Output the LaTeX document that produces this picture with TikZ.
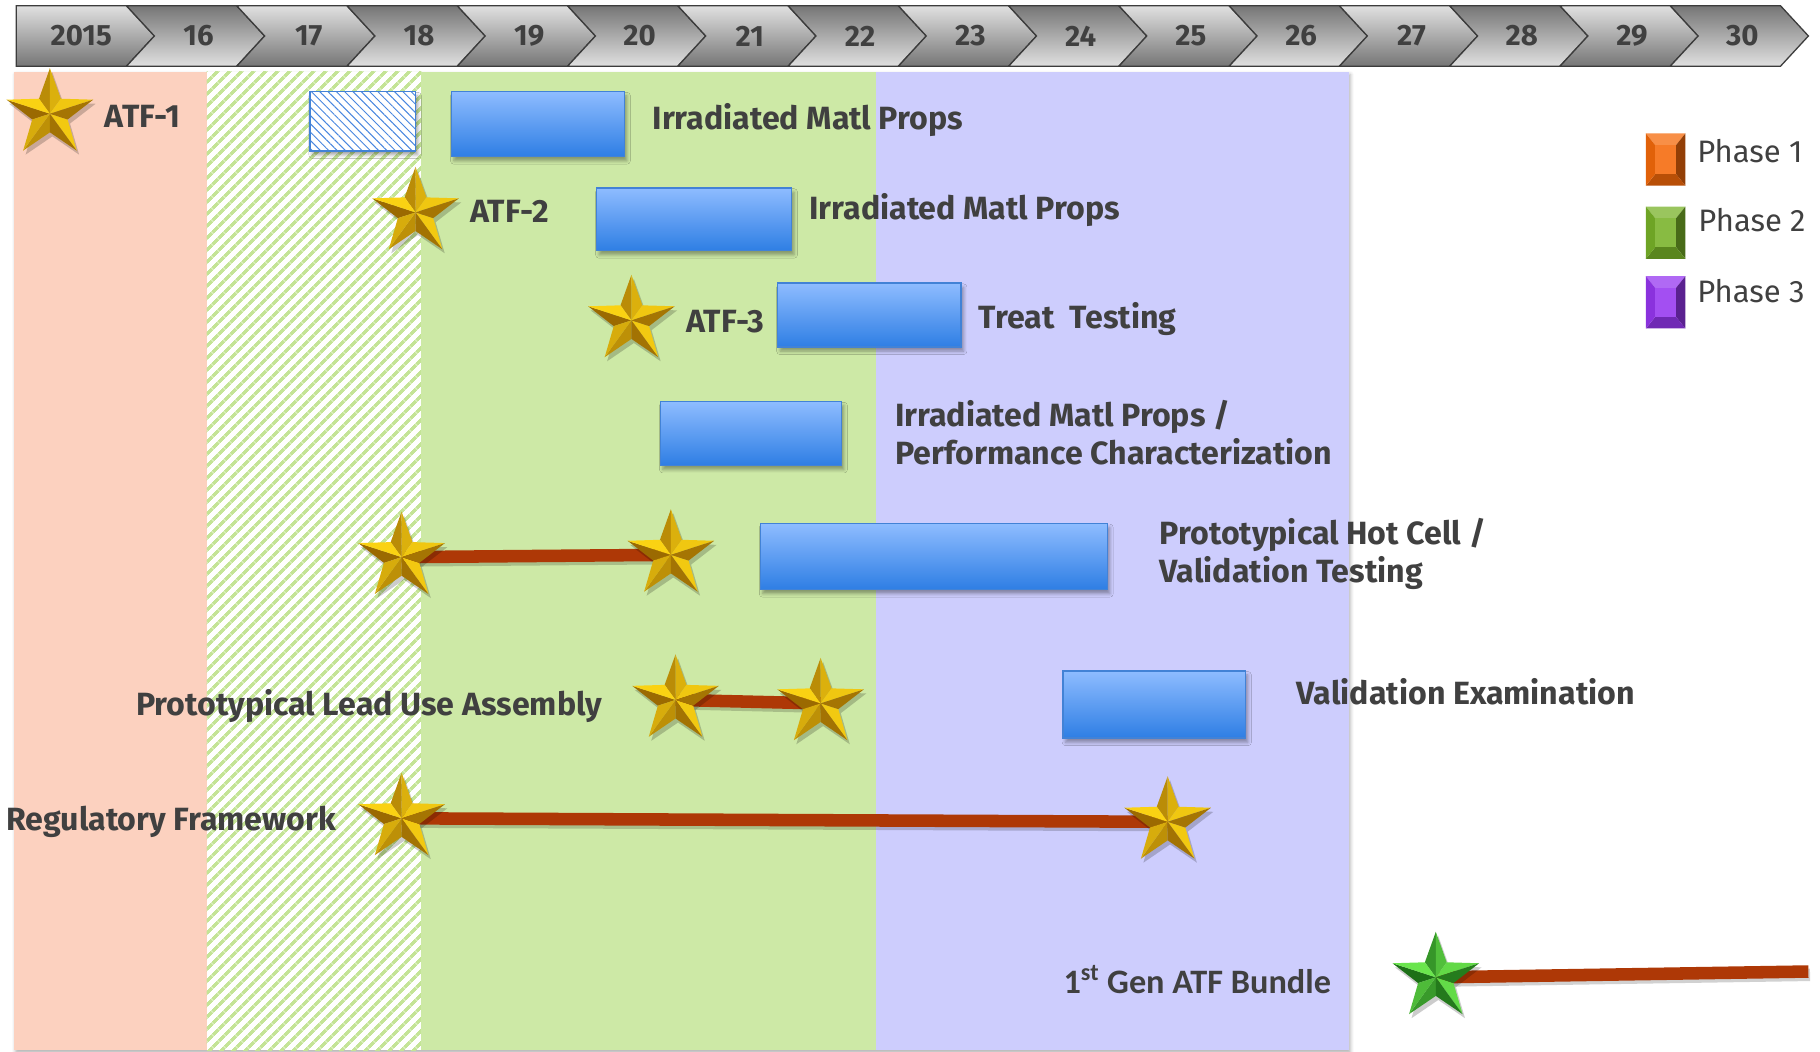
\documentclass[tikz,border=0pt]{standalone}
\usepackage{fontspec}
\setmainfont{Fira Sans}
\newfontfamily\bundlefont{Carlito}
\usetikzlibrary{patterns.meta,shadows.blur,shapes.geometric}

\definecolor{phaseone}{RGB}{252,209,191}
\definecolor{phasetwo}{RGB}{205,233,166}
\definecolor{phasethree}{RGB}{205,205,253}
\definecolor{hatchgreen}{RGB}{196,228,150}
\definecolor{hatchblue}{RGB}{72,134,224}
\definecolor{bartop}{RGB}{142,188,255}
\definecolor{barbot}{RGB}{46,126,228}
\definecolor{barline}{RGB}{66,130,214}
\definecolor{linkred}{RGB}{174,56,6}
\definecolor{txtgray}{RGB}{64,64,64}
\definecolor{goldlight}{RGB}{255,216,20}
\definecolor{golddark}{RGB}{150,100,0}
\definecolor{greenlight}{RGB}{110,236,80}
\definecolor{greendark}{RGB}{25,105,20}
\definecolor{hdrlight}{RGB}{224,224,224}
\definecolor{hdrdark}{RGB}{118,118,118}
\definecolor{hdrline}{RGB}{60,60,60}
\definecolor{keyorange}{RGB}{245,105,10}
\definecolor{keygreen}{RGB}{120,178,40}
\definecolor{keypurple}{RGB}{150,55,240}

% five point star made of facets, light coming from the upper right
\newcommand\starfacets[2]{%
  \node[star, star points=5, star point ratio=2.45, minimum size=1.96cm, inner sep=0pt,
        fill=black, opacity=0.2] at (1.5pt,-2.5pt) {};
  \foreach \a in {90,162,234,306,378}{%
    \pgfmathsetmacro\sl{50+45*cos(\a+90-70)}%
    \pgfmathsetmacro\sr{50+45*cos(\a-90-70)}%
    \fill[#1!\sl!#2] (0,0) -- (\a:0.98cm) -- ({\a+36}:0.40cm) -- cycle;
    \fill[#1!\sr!#2] (0,0) -- (\a:0.98cm) -- ({\a-36}:0.40cm) -- cycle;
  }}

% bevelled legend square, #2 = top edge
\newcommand\phasekey[2]{%
  \fill[#1!75!white] (1418,#2) -- (1452,#2) -- (1444,#2+10) -- (1426,#2+10) -- cycle;
  \fill[#1!60!black] (1452,#2) -- (1452,#2+45) -- (1444,#2+35) -- (1444,#2+10) -- cycle;
  \fill[#1!75!black] (1452,#2+45) -- (1418,#2+45) -- (1426,#2+35) -- (1444,#2+35) -- cycle;
  \fill[#1!92!black] (1418,#2+45) -- (1418,#2) -- (1426,#2+10) -- (1426,#2+35) -- cycle;
  \fill[#1!88!white] (1426,#2+10) rectangle (1444,#2+35);}

\begin{document}
\begin{tikzpicture}[x=0.025cm,y=-0.025cm,
  lbl/.style={font=\bfseries\fontsize{19.7}{23.5}\selectfont, text=txtgray, inner sep=0pt, anchor=west},
  yearlbl/.style={font=\bfseries\fontsize{18}{21}\selectfont, text=txtgray},
  keylbl/.style={font=\fontsize{19}{22}\selectfont, text=txtgray, inner sep=0pt, anchor=west},
  taskbar/.style={draw=barline, line width=0.9pt, top color=bartop, bottom color=barbot,
    blur shadow={shadow xshift=1.5pt, shadow yshift=-2.5pt, shadow opacity=35}},
  link/.style={draw=linkred, line width=0.27cm,
    preaction={draw=black, opacity=0.18, line width=0.27cm, transform canvas={xshift=1pt,yshift=-2pt}}},
  goldstar/.pic={\starfacets{goldlight}{golddark}},
  greenstar/.pic={\starfacets{greenlight}{greendark}}]

\useasboundingbox (0,0) rectangle (1568,906);

% years across the top
\foreach \yr [count=\k from 0] in {2015,16,17,18,19,20,21,22,23,24,25,26,27,28,29,30}{
  \pgfmathsetmacro\L{14+95*\k}
  \ifodd\k \colorlet{ctop}{hdrdark}\colorlet{cbot}{hdrlight}\else \colorlet{ctop}{hdrlight}\colorlet{cbot}{hdrdark}\fi
  \ifnum\k=0 \def\notch{0}\def\lblx{56}\else \def\notch{24}\def\lblx{62}\fi
  \path[draw=hdrline, line width=0.8pt, top color=ctop, bottom color=cbot]
    (\L,5) -- (\L+95,5) -- (\L+119,31) -- (\L+95,57) -- (\L,57) -- (\L+\notch,31) -- cycle;
  \node[yearlbl] (yr\k) at (\L+\lblx,31) {\yr};
}

% phase panels
\fill[white, blur shadow={shadow xshift=1pt, shadow yshift=-1.5pt, shadow opacity=30}] (12,62) rectangle (1162,905);
\fill[phaseone] (12,62) rectangle (178,905);
\pattern[pattern={Lines[angle=45,distance=5.4pt,line width=2.3pt]}, pattern color=hatchgreen] (178,62) rectangle (363,905);
\fill[phasetwo] (363,62) rectangle (755,905);
\fill[phasethree] (755,62) rectangle (1162,905);

% test campaigns
\draw[barline, line width=0.9pt, blur shadow={shadow xshift=1.5pt, shadow yshift=-2.5pt, shadow opacity=35},
  preaction={fill=white}, pattern={Lines[angle=-45,distance=3.6pt,line width=0.6pt]},
  pattern color=hatchblue] (267,79) rectangle (358,130);
\draw[taskbar] (389,79) rectangle (538,135);
\draw[taskbar] (514,162) rectangle (682,216);
\draw[taskbar] (670,244) rectangle (828,299);
\draw[taskbar] (569,346) rectangle (725,401);
\draw[taskbar] (655,451) rectangle (954,508);
\draw[taskbar] (916,578) rectangle (1073,636);

\node[lbl] (irr1) at (562,103) {Irradiated Matl Props};
\node[lbl] (irr2) at (697,181) {Irradiated Matl Props};
\node[lbl] (treat) at (843,275) {Treat\ \ Testing};
\node[lbl, align=left] (perf) at (771,373) {Irradiated Matl Props /\\Performance Characterization};
\node[lbl, align=left] (hotcell) at (999,477) {Prototypical Hot Cell /\\Validation Testing};
\node[lbl] (valexam) at (1117,596) {Validation Examination};

% milestones
\coordinate (atf1) at (43,98);
\coordinate (atf2) at (358,183);
\coordinate (atf3) at (544,276);
\coordinate (hot1) at (346,480);
\coordinate (hot2) at (578,478);
\coordinate (lua1) at (582,603);
\coordinate (lua2) at (707,606);
\coordinate (reg1) at (346,705);
\coordinate (reg2) at (1006,708);
\coordinate (gen1) at (1237,842);
\coordinate (gen1end) at (1558,837);

\draw[link] (hot1) -- (hot2);
\draw[link] (lua1) -- (lua2);
\draw[link] (reg1) -- (reg2);
\draw[link] (gen1) -- (gen1end);

\foreach \s in {atf1,atf2,atf3,hot1,hot2,lua1,lua2,reg1,reg2}
  \pic at (\s) {goldstar};
\pic at (gen1) {greenstar};

\node[lbl] (atf1lbl) at (90,100) {ATF-1};
\node[lbl] (atf2lbl) at (405,182) {ATF-2};
\node[lbl] (atf3lbl) at (591,277) {ATF-3};
\node[lbl, anchor=east] (lualbl) at (519,608) {Prototypical Lead Use Assembly};
\node[lbl] (reglbl) at (5,708) {Regulatory Framework};
\node[lbl, anchor=east, font=\bundlefont\bfseries\fontsize{21}{25}\selectfont] (genlbl) at (1147,844) {1\textsuperscript{st} Gen ATF Bundle};

% legend
\phasekey{keyorange}{115}
\phasekey{keygreen}{178}
\phasekey{keypurple}{238}
\node[keylbl] (key1) at (1462,130) {Phase 1};
\node[keylbl] (key2) at (1463,190) {Phase 2};
\node[keylbl] (key3) at (1462,251) {Phase 3};

\end{tikzpicture}
\end{document}
